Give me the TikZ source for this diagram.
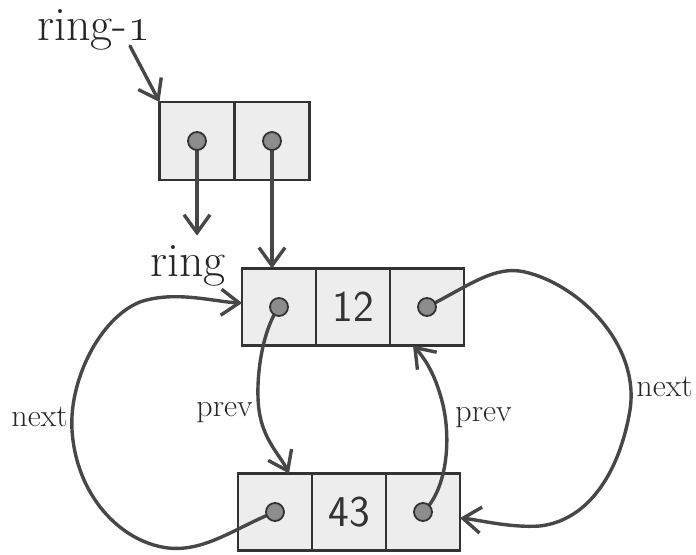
\RequirePackage{fix-cm}
\documentclass[tikz,border=0pt]{standalone}
\usetikzlibrary{arrows.meta,positioning}
\tikzset{
	cell/.style={draw=black!80,line width=1.3pt,fill=black!7,minimum width=37pt,minimum height=38.5pt,inner sep=0pt,outer sep=0pt,text=black!80,font=\sffamily\fontsize{22}{26}\selectfont},
	ptr/.style={draw=black!72,line width=1.7pt,line cap=round,-{Straight Barb[length=9pt,width=13pt]}},
	knob/.style={circle,draw=black!80,line width=0.9pt,fill=black!45,minimum size=9pt,inner sep=0pt},
	lbl/.style={inner sep=0pt,text=black!85,font=\fontsize{16}{19}\selectfont},
	bigname/.style={inner xsep=0pt,inner ysep=5pt,text=black!85,font=\fontsize{24}{28}\selectfont}
}
\begin{document}
\begin{tikzpicture}[x=0.5pt,y=-0.5pt]
	\useasboundingbox (0,0) rectangle (696,555);
	% ring-1: a pair of pointers
	\node[cell,minimum width=37.5pt,minimum height=39pt] (t1) at (197,141) {};
	\node[cell,minimum width=37.5pt,minimum height=39pt,right=0pt of t1] (t2) {};
	% the two ring nodes
	\node[cell] (m1) at (279,307) {};
	\node[cell,right=0pt of m1] (m2) {12};
	\node[cell,right=0pt of m2] (m3) {};
	\node[cell] (b1) at (275,512) {};
	\node[cell,right=0pt of b1] (b2) {43};
	\node[cell,right=0pt of b2] (b3) {};
	\node[bigname,inner ysep=0pt,anchor=base west] (ringone) at (37,41) {ring-\oldstylenums{1}};
	\node[bigname,anchor=base east] (ring) at (226,277) {ring};
	\coordinate (r0) at (130,46);
	\draw[ptr] (r0) -- (t1.north west);
	\draw[ptr] (t1.center) -- (t1.center |- ring.north);
	\draw[ptr] (t2.center) -- (t2.center |- m1.north);
	% next pointers
	\draw[ptr] (m3.center) .. controls (470,285) and (495,265) .. (525,272)
		.. controls (580,285) and (640,345) .. (630,410)
		.. controls (620,470) and (590,520) .. (540,526)
		.. controls (510,528) and (480,520) .. ([yshift=-3pt]b3.east);
	\draw[ptr] (b1.center) .. controls (235,528) and (205,552) .. (168,548)
		.. controls (120,542) and (76,495) .. (72,430)
		.. controls (69,380) and (100,318) .. (140,302)
		.. controls (175,290) and (215,302) .. ([yshift=2pt]m1.west);
	% prev pointers
	\draw[ptr] (m1.center) .. controls (262,330) and (255,380) .. (259,410)
		.. controls (263,440) and (280,455) .. ([xshift=7pt]b1.north);
	\draw[ptr] (b3.center) .. controls (445,492) and (452,445) .. (443,405)
		.. controls (437,380) and (428,362) .. ([xshift=-7pt]m3.south);
	\foreach \c in {t1,t2,m1,m3,b1,b3}
		\node[knob] (k-\c) at (\c) {};
	\node[lbl,anchor=base east] (nextL) at (68,427) {next};
	\node[lbl,anchor=base west] (nextR) at (636,397) {next};
	\node[lbl,anchor=base east] (prevL) at (253,417) {prev};
	\node[lbl,anchor=base west] (prevR) at (455,422) {prev};
\end{tikzpicture}
\end{document}
